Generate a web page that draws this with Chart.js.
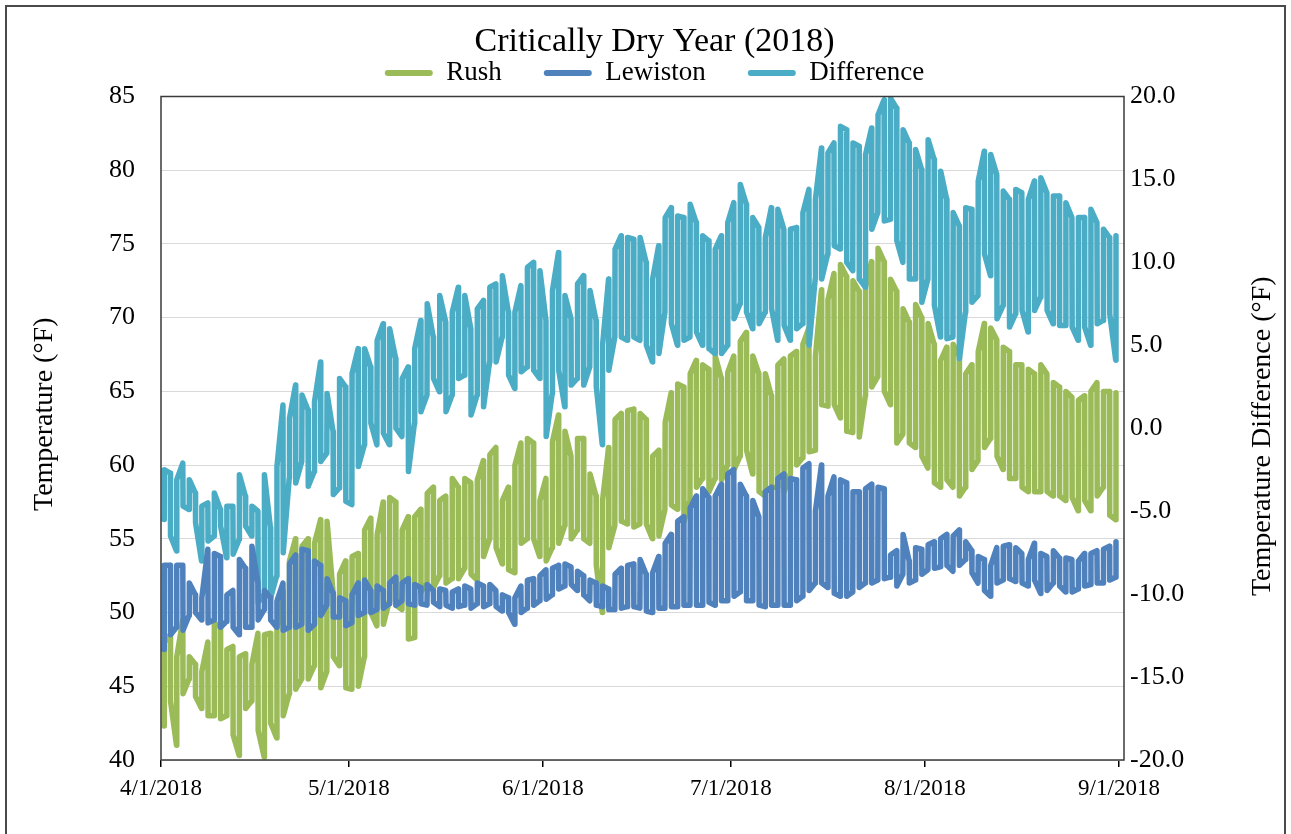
<!DOCTYPE html>
<html>
<head>
<meta charset="utf-8">
<title>Critically Dry Year (2018)</title>
<script src="https://cdn.jsdelivr.net/npm/chart.js@4.4.1/dist/chart.umd.min.js"></script>
<style>
  html, body { margin: 0; padding: 0; background: #ffffff; }
  #wrap { position: relative; width: 1291px; height: 834px; }
</style>
</head>
<body>
<div id="wrap"><canvas id="chart" width="1291" height="834"></canvas></div>
<script>
// Day index 0 = 4/1/2018; ticks at the first of each month
const monthTicks = [0, 30, 61, 91, 122, 153];
const monthLabels = ['4/1/2018', '5/1/2018', '6/1/2018', '7/1/2018', '8/1/2018', '9/1/2018'];

// Daily high / low water temperature (°F), 4/1 – 8/31
const rushHigh = [
  48, 48.5, 47, 49.5, 47, 46.5, 46, 48, 49.3, 49,
  47.5, 47.7, 47, 47.2, 46.5, 48.6, 48.5, 48.6, 49, 51.5,
  53.5, 55, 54.5, 55, 54.7, 56.3, 56.2, 51.4, 52.6, 53.5,
  53.8, 54, 55.6, 56.4, 55.3, 57.5, 57.8, 57.5, 55.6, 56.5,
  56.5, 57, 58.1, 58.5, 57.6, 57.9, 59.1, 58.5, 59.1, 58.8,
  59, 60.3, 60.7, 61.2, 57.6, 58.5, 60, 61.5, 61.8, 61.5,
  57.6, 59.1, 61.6, 63.4, 62.3, 60.6, 61.8, 61.8, 59.4, 57.9,
  57.6, 61.2, 63.1, 63.5, 63.7, 63.8, 63.5, 63.1, 60.6, 61,
  62.9, 64.9, 65.5, 65.3, 66.2, 67.1, 66.8, 66.5, 67.4, 65.9,
  66.3, 67.4, 68.4, 69, 67.4, 66.2, 66.2, 64.7, 66.8, 67.2,
  67.4, 67.7, 68.2, 69.3, 67.4, 71.9, 71.2, 73, 73.6, 72.8,
  72.5, 71.8, 72.1, 73.8, 74.7, 73.8, 72.6, 71.8, 70.6, 69.7,
  70.9, 70, 69.6, 68.2, 67.1, 68, 68.2, 67.4, 66.2, 66.8,
  67.7, 69.6, 69.3, 68.5, 68, 67.7, 66.8, 66.8, 66.5, 66.2,
  66.8, 66.2, 65.6, 65.3, 65, 64.6, 64.4, 64.7, 65, 65.6,
  65, 65, 64.9
];
const rushLow = [
  42.3, 44, 41, 44.5, 45.5, 44.3, 43.5, 43, 43, 42.8,
  43, 41.7, 40.3, 43.5, 44, 42, 40.2, 42.5, 41.5, 43,
  44.5, 44.8, 45.5, 45.5, 46.4, 44.9, 46, 47, 46.4, 44.9,
  44.8, 45, 47, 50, 49.1, 49.2, 50.8, 50.5, 50.2, 48.2,
  48.3, 51.4, 52, 51.7, 52.5, 52, 52.3, 52.3, 53, 52.6,
  52.2, 53.8, 55, 54.4, 53.3, 52.9, 52.7, 54.7, 55, 55,
  53.8, 53.5, 54.4, 54.7, 55.9, 55, 55.6, 55, 54.7, 53.2,
  50, 54.4, 55.9, 56.2, 56, 55.8, 56, 56, 55, 55.2,
  57, 57.3, 57, 56.2, 57.6, 58.5, 59.1, 58.2, 59.1, 59,
  60, 59.7, 60.6, 61, 59.4, 58.2, 57.9, 58.5, 58.5, 58.2,
  59.4, 60, 60.5, 60.9, 61, 64.1, 64, 64.1, 63.2, 62.3,
  62.2, 61.9, 64.7, 65.3, 66, 65, 64.1, 61.5, 62.1, 61.5,
  61.2, 60.6, 59.8, 58.8, 58.5, 59, 58.5, 57.9, 58.5, 59.7,
  60.3, 61.2, 61.8, 60.6, 59.7, 59.1, 59.1, 58.5, 58.2, 58.2,
  58.2, 58.2, 57.9, 57.9, 57.6, 57.8, 56.9, 57.6, 56.9, 57.9,
  58.5, 56.6, 56.3
];
const lewistonHigh = [
  53.2, 53.2, 53.2, 53.2, 52, 51.2, 51, 54.3, 54, 53.8,
  51.2, 51.5, 53.6, 53, 54.5, 52, 51.5, 51, 50.8, 52,
  53.3, 53.9, 54.3, 54.2, 53.5, 53.2, 52.3, 51.3, 51, 50.8,
  51.2, 52, 52.2, 51.5, 51.8, 51.5, 52, 52.4, 52, 52.3,
  51.9, 51.7, 51.9, 51.5, 51.6, 51.5, 51.4, 51.6, 51.8, 51.6,
  52, 51.8, 51.9, 51.5, 51.2, 51, 51, 51.8, 52.2, 52.3,
  52.5, 52.9, 53, 53.2, 53.3, 53.1, 52.8, 52.5, 52.2, 52,
  51.8, 51.6, 52.6, 53, 53.2, 53.3, 53.6, 52.6, 52.7, 53.8,
  54.7, 55.3, 56.2, 56.5, 57.1, 57.9, 58.4, 57.8, 57.9, 58.7,
  59.4, 59.7, 58.7, 57.9, 57.6, 56.5, 58.2, 58.5, 59.1, 59.4,
  59.1, 59, 59.8, 60.1, 56.9, 60, 57.9, 59.2, 59, 58.8,
  58.2, 58.2, 58.4, 58.7, 58.5, 58.4, 53.9, 54.2, 55.3, 53.5,
  54.4, 54.3, 54.6, 54.8, 55, 55.3, 55.2, 55.6, 54.8, 54.2,
  53.8, 53.6, 53.2, 54.4, 54.5, 54.6, 54.4, 54, 53.6, 54.7,
  54, 53.8, 54.2, 53.7, 53.7, 53.6, 53.5, 54, 54, 54.2,
  54.3, 54.5, 54.8
];
const lewistonLow = [
  47.5, 48.5, 49, 48.8, 49.8, 50, 49.5, 49.3, 49.5, 49,
  49.4, 49, 48.5, 49, 49, 49.5, 50.2, 49.5, 49, 48.8,
  49, 49, 49.2, 48.8, 49.2, 49.8, 50.5, 49.7, 49.7, 49.1,
  49.3, 49.8, 50, 50, 50.2, 50.3, 50.6, 50.5, 50.8, 50.6,
  50.5, 50.6, 50.5, 50.7, 50.4, 50.5, 50.3, 50.4, 50.5, 50.3,
  50.6, 50.4, 50.6, 50.4, 50.1, 50, 49.2, 50, 50.3, 50.5,
  50.8, 50.9, 51.2, 51.6, 51.8, 51.9, 51.5, 51.2, 50.8, 50.5,
  50.4, 50.2, 50.2, 50.3, 50.4, 50.4, 50.3, 50.1, 50, 50.3,
  50.3, 50.4, 50.4, 50.5, 50.5, 50.5, 50.5, 50.7, 50.5, 50.8,
  50.8, 51.1, 51.4, 50.8, 50.8, 50.5, 50.4, 50.5, 50.5, 50.5,
  50.5, 50.8, 51.1, 51.5, 52, 52, 51.7, 51.3, 51.1, 51.1,
  51.4, 51.7, 52, 52, 52.2, 52.3, 52.4, 51.8, 52.6, 52,
  52.2, 52.6, 52.9, 53, 53.1, 53.2, 52.8, 53.2, 53.6, 52.7,
  52, 51.5, 51.1, 52, 52.2, 52.3, 52.1, 52, 51.8, 52.2,
  51.3, 51.5, 52, 51.8, 51.4, 51.4, 51.6, 51.8, 51.9, 52,
  52, 52.2, 52.4
];
// Daily high / low of Rush minus Lewiston (°F), right axis
const differenceHigh = [
  -2.5, -2.7, -3.1, -2.1, -3.1, -3.9, -4.7, -4.5, -3.9, -4.9,
  -4.7, -4.7, -2.8, -4.1, -4.7, -5, -2.8, -6, -2.3, 1.4,
  0.6, 2.6, 2, 1.1, 1.6, 4, 2.1, -0.2, 3, 2.5,
  3.3, 4.8, 4.8, 3.7, 5.3, 6.3, 6, 4.2, 3, 3.7,
  4.8, 6.5, 7.5, 5.5, 8, 6.4, 7, 8.5, 8, 6,
  7.2, 7.7, 8.5, 8.7, 9.2, 7, 7, 8.6, 9.7, 10,
  9.5, 6.5, 8.3, 10.6, 8, 6.6, 8.7, 9.2, 8.3, 6.5,
  5, 9, 10.8, 11.6, 11.5, 11.4, 11.5, 10, 9, 11,
  12.7, 13.3, 12.8, 12.7, 13.5, 12.4, 11.6, 11.3, 10.8, 11.6,
  12.4, 13.6, 14.7, 13.5, 12.7, 12.1, 11.5, 13.3, 13.2, 12,
  12, 12.1, 13, 14.4, 13.8, 16.9, 16.6, 17.2, 18.2, 18,
  17.2, 17, 16.5, 18.1, 18.9, 19.8, 19.9, 19.3, 18, 17.2,
  16.8, 15.6, 17.4, 16.2, 15.5, 13.8, 13, 12.2, 13.3, 13.2,
  14.9, 16.7, 16.5, 15.3, 14.3, 13.8, 14.4, 14.2, 13.8, 14.9,
  15.1, 14.2, 14, 14, 13.6, 12.7, 12.7, 12.7, 13.2, 12.4,
  12, 11.5, 11.6
];
const differenceLow = [
  -5.5, -6.5, -7.4, -4.7, -4.9, -5.7, -8, -6.8, -6.5, -5.9,
  -7.8, -7.6, -6.7, -5.9, -6.5, -10.5, -10, -10.2, -8.9, -7.5,
  -3, -3.3, -2, -3.5, -2.6, -2, -1.5, -4, -3.6, -4.4,
  -4.6, -2.3, -1, 0.3, -1, -0.3, -1, 0, -0.5, -2.6,
  0.3, 1, 2, 3, 2.2, 1, 2, 3, 3.2, 0.8,
  2, 1.3, 4, 4, 5.5, 3.2, 2.4, 3.4, 3.7, 3.5,
  3, -0.5, 2.1, 3.5, 1.3, 2.6, 3, 2.6, 3.7, 2.5,
  -1, 3.5, 5.5, 5.5, 5.3, 5.5, 5.3, 5, 4, 4.5,
  7, 6.3, 5, 5.3, 5.5, 5.8, 5, 4.8, 4.5, 4.5,
  5, 6.6, 7.5, 7, 6, 6.3, 7, 7.2, 5.3, 6.2,
  5.3, 6, 6.3, 5, 9, 9, 10.5, 11, 10.8, 10,
  9.5, 9, 8.5, 12, 13, 12.5, 12.6, 11.3, 10, 9,
  9, 7.6, 9, 7.4, 5.5, 5.4, 5.5, 4.2, 7, 7.6,
  8, 10.5, 9.2, 6.6, 7.4, 6.1, 6.9, 7.1, 5.8, 7.1,
  7.9, 7.1, 6.3, 6.2, 6.2, 6.1, 5.3, 6.1, 5, 6.3,
  6.5, 6.9, 4.1
];

// Each day contributes its low and high reading; the order alternates so the
// trace swings up and down once per day.
function dailySwing(high, low) {
  const pts = [];
  high.forEach((h, d) => {
    const l = low[d];
    const a = d % 2 === 0 ? l : h;
    const b = d % 2 === 0 ? h : l;
    pts.push({ x: d + 0.48, y: a }, { x: d + 0.52, y: b });
  });
  return pts;
}

const SERIF = "'Liberation Serif', 'Times New Roman', serif";
Chart.defaults.font.family = SERIF;
Chart.defaults.color = '#000000';

const frames = {
  id: 'frames',
  beforeDraw(chart) {
    const ctx = chart.ctx;
    ctx.save();
    ctx.fillStyle = '#ffffff';
    ctx.fillRect(0, 0, chart.width, chart.height);
    ctx.strokeStyle = '#4a4a4a';
    ctx.lineWidth = 2;
    ctx.strokeRect(6, 6, chart.width - 12, chart.height + 20);
    ctx.restore();
  },
  afterDatasetsDraw(chart) {
    const { ctx, chartArea: a } = chart;
    ctx.save();
    ctx.strokeStyle = '#3a3a3a';
    ctx.lineWidth = 1.5;
    ctx.strokeRect(a.left, a.top, a.right - a.left, a.bottom - a.top);
    ctx.restore();
  },
  afterDraw(chart) {
    const ctx = chart.ctx;
    const a = chart.chartArea;
    const mid = (a.top + a.bottom) / 2;
    ctx.save();
    ctx.fillStyle = '#000000';
    ctx.font = '28px ' + SERIF;
    ctx.textAlign = 'center';
    ctx.textBaseline = 'middle';
    ctx.save();
    ctx.translate(45, mid - 14);
    ctx.rotate(-Math.PI / 2);
    ctx.fillText('Temperature (°F)', 0, 0);
    ctx.restore();
    ctx.save();
    ctx.translate(chart.width - 28, mid + 8);
    ctx.rotate(-Math.PI / 2);
    ctx.fillText('Temperature Difference (°F)', 0, 0);
    ctx.restore();
    ctx.restore();
  }
};

const lineStyle = {
  pointRadius: 0,
  borderWidth: 5.5,
  tension: 0,
  borderCapStyle: 'round',
  borderJoinStyle: 'round',
  fill: false
};

new Chart(document.getElementById('chart'), {
  type: 'line',
  data: {
    datasets: [
      Object.assign({ label: 'Rush', data: dailySwing(rushHigh, rushLow), yAxisID: 'y',
        borderColor: '#9BBB59', backgroundColor: '#9BBB59', order: 3 }, lineStyle),
      Object.assign({ label: 'Lewiston', data: dailySwing(lewistonHigh, lewistonLow), yAxisID: 'y',
        borderColor: '#4F81BD', backgroundColor: '#4F81BD', order: 1 }, lineStyle),
      Object.assign({ label: 'Difference', data: dailySwing(differenceHigh, differenceLow), yAxisID: 'y2',
        borderColor: '#4BACC6', backgroundColor: '#4BACC6', order: 2 }, lineStyle)
    ]
  },
  options: {
    responsive: false,
    animation: false,
    devicePixelRatio: 1,
    parsing: false,
    events: [],
    layout: { padding: { left: 18, top: 0, right: 0, bottom: 0 } },
    plugins: {
      title: {
        display: true,
        text: 'Critically Dry Year (2018)',
        color: '#000000',
        font: { size: 34, weight: 'normal', lineHeight: 1 },
        padding: { top: 25, bottom: -41.5 }
      },
      legend: {
        display: true,
        position: 'top',
        labels: {
          boxWidth: 48,
          boxHeight: 6,
          padding: 42,
          color: '#000000',
          font: { size: 27 },
          useBorderRadius: true,
          borderRadius: 3,
          sort: (a, b) => a.datasetIndex - b.datasetIndex,
          generateLabels: (chart) => Chart.defaults.plugins.legend.labels.generateLabels(chart)
            .map((item) => Object.assign(item, { lineWidth: 0 }))
        }
      },
      tooltip: { enabled: false }
    },
    scales: {
      x: {
        type: 'linear',
        min: 0,
        max: 153.8,
        afterBuildTicks: (scale) => { scale.ticks = monthTicks.map((v) => ({ value: v })); },
        afterFit: (scale) => { scale.height = 74; },
        ticks: {
          autoSkip: false,
          maxRotation: 0,
          padding: 8,
          color: '#000000',
          font: { size: 23 },
          callback: (value, index) => monthLabels[index]
        },
        grid: { drawOnChartArea: false, drawTicks: true, tickLength: 7, color: '#000000', lineWidth: 1.5 },
        border: { display: false }
      },
      y: {
        position: 'left',
        min: 40,
        max: 85,
        afterFit: (scale) => { scale.width = 143; },
        ticks: { stepSize: 5, padding: 26, color: '#000000', font: { size: 26 } },
        grid: { color: '#d9d9d9', lineWidth: 1, drawTicks: false },
        border: { display: false }
      },
      y2: {
        position: 'right',
        min: -20,
        max: 20,
        afterFit: (scale) => { scale.width = 167; },
        ticks: { stepSize: 5, padding: 6, color: '#000000', font: { size: 26 },
          callback: (value) => Number(value).toFixed(1) },
        grid: { display: false, drawTicks: false },
        border: { display: false }
      }
    }
  },
  plugins: [frames]
});
</script>
</body>
</html>
